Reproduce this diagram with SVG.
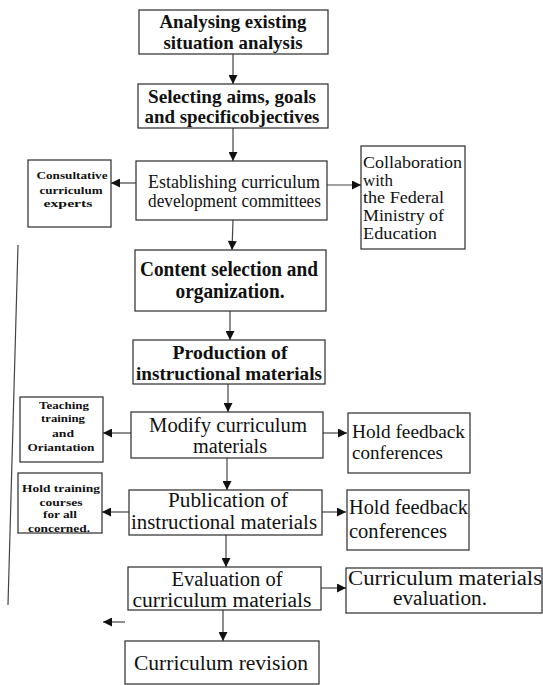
<svg xmlns="http://www.w3.org/2000/svg" width="543" height="685" viewBox="0 0 543 685">
  <style>
    .box { fill: #ffffff; stroke: #2a2a2a; stroke-width: 1.2; }
    text { font-family: "Liberation Serif", "DejaVu Serif", serif; fill: #111; }
    .b { font-weight: bold; }
    .m { font-size: 19px; }
    .l { font-size: 20px; }
    .e { font-size: 19px; }
    .r { font-size: 16px; }
    .s { font-size: 11px; font-weight: bold; }
    .c { text-anchor: middle; }
    .conn line { stroke: #444; stroke-width: 1.2; }
  </style>
  <defs>
    <marker id="ah" viewBox="0 0 10 10" refX="10" refY="5" markerWidth="10" markerHeight="9" markerUnits="userSpaceOnUse" orient="auto">
      <path d="M0,0 L10,5 L0,10 Z" fill="#111"/>
    </marker>
  </defs>
  <rect width="543" height="685" fill="#ffffff"/>

  <!-- flow connectors -->
  <g id="connectors" class="conn">
    <line x1="233" y1="54" x2="233" y2="84" marker-end="url(#ah)"/>
    <line x1="233" y1="128" x2="233" y2="161" marker-end="url(#ah)"/>
    <line x1="233" y1="220" x2="232" y2="250" marker-end="url(#ah)"/>
    <line x1="230" y1="311" x2="230" y2="340" marker-end="url(#ah)"/>
    <line x1="228" y1="384" x2="228" y2="412" marker-end="url(#ah)"/>
    <line x1="227" y1="458" x2="227" y2="490" marker-end="url(#ah)"/>
    <line x1="226" y1="535" x2="226" y2="567" marker-end="url(#ah)"/>
    <line x1="223" y1="610" x2="223" y2="641" marker-end="url(#ah)"/>
    <line x1="136" y1="183" x2="111" y2="183" marker-end="url(#ah)"/>
    <line x1="327" y1="185" x2="361" y2="185" marker-end="url(#ah)"/>
    <line x1="131" y1="433" x2="103" y2="433" marker-end="url(#ah)"/>
    <line x1="323" y1="433" x2="347" y2="433" marker-end="url(#ah)"/>
    <line x1="129" y1="512" x2="102" y2="512" marker-end="url(#ah)"/>
    <line x1="322" y1="512" x2="346" y2="512" marker-end="url(#ah)"/>
    <line x1="321" y1="588" x2="346" y2="588" marker-end="url(#ah)"/>
    <line x1="125" y1="622" x2="103" y2="622" marker-end="url(#ah)"/>
    <line x1="18" y1="245" x2="8" y2="605"/>
  </g>

  <g id="analysing">
    <rect class="box" x="139" y="10" width="189" height="44"/>
    <text class="m b c" x="233" y="28" textLength="147" lengthAdjust="spacingAndGlyphs">Analysing existing</text>
    <text class="m b c" x="233" y="49" textLength="139" lengthAdjust="spacingAndGlyphs">situation analysis</text>
  </g>

  <g id="selecting">
    <rect class="box" x="138" y="84" width="190" height="44"/>
    <text class="m b c" x="232" y="103" textLength="168" lengthAdjust="spacingAndGlyphs">Selecting aims, goals</text>
    <text class="m b c" x="232" y="123" textLength="175" lengthAdjust="spacingAndGlyphs">and specificobjectives</text>
  </g>

  <g id="establishing">
    <rect class="box" x="136" y="161" width="191" height="59"/>
    <text class="e" x="148" y="188" textLength="172" lengthAdjust="spacingAndGlyphs">Establishing curriculum</text>
    <text class="e" x="148" y="207" textLength="173" lengthAdjust="spacingAndGlyphs">development committees</text>
  </g>

  <g id="consultative">
    <rect class="box" x="28" y="160" width="83" height="67"/>
    <text class="s c" x="72" y="179" textLength="71" lengthAdjust="spacingAndGlyphs">Consultative</text>
    <text class="s c" x="71" y="194" textLength="63" lengthAdjust="spacingAndGlyphs">curriculum</text>
    <text class="s c" x="68" y="207" textLength="49" lengthAdjust="spacingAndGlyphs">experts</text>
  </g>

  <g id="collaboration">
    <rect class="box" x="361" y="146" width="104" height="103"/>
    <text class="r" x="363" y="168" textLength="99" lengthAdjust="spacingAndGlyphs">Collaboration</text>
    <text class="r" x="363" y="186" textLength="30" lengthAdjust="spacingAndGlyphs">with</text>
    <text class="r" x="363" y="203" textLength="81" lengthAdjust="spacingAndGlyphs">the Federal</text>
    <text class="r" x="363" y="221" textLength="81" lengthAdjust="spacingAndGlyphs">Ministry of</text>
    <text class="r" x="363" y="239" textLength="74" lengthAdjust="spacingAndGlyphs">Education</text>
  </g>

  <g id="content">
    <rect class="box" x="135" y="250" width="191" height="61"/>
    <text class="l b c" x="229" y="276" textLength="178" lengthAdjust="spacingAndGlyphs">Content selection and</text>
    <text class="l b c" x="230" y="298" textLength="109" lengthAdjust="spacingAndGlyphs">organization.</text>
  </g>

  <g id="production">
    <rect class="box" x="133" y="340" width="192" height="44"/>
    <text class="m b c" x="230" y="359" textLength="115" lengthAdjust="spacingAndGlyphs">Production of</text>
    <text class="m b c" x="229" y="380" textLength="186" lengthAdjust="spacingAndGlyphs">instructional materials</text>
  </g>

  <g id="teaching">
    <rect class="box" x="20" y="397" width="83" height="65"/>
    <text class="s c" x="64" y="409" textLength="50" lengthAdjust="spacingAndGlyphs">Teaching</text>
    <text class="s c" x="63" y="422" textLength="44" lengthAdjust="spacingAndGlyphs">training</text>
    <text class="s c" x="63" y="437" textLength="22" lengthAdjust="spacingAndGlyphs">and</text>
    <text class="s c" x="61" y="451" textLength="67" lengthAdjust="spacingAndGlyphs">Oriantation</text>
  </g>

  <g id="modify">
    <rect class="box" x="131" y="412" width="192" height="46"/>
    <text class="l c" x="228" y="432" textLength="158" lengthAdjust="spacingAndGlyphs">Modify curriculum</text>
    <text class="l c" x="230" y="453" textLength="74" lengthAdjust="spacingAndGlyphs">materials</text>
  </g>

  <g id="feedback1">
    <rect class="box" x="348" y="413" width="122" height="60"/>
    <text class="m" x="352" y="438" textLength="113" lengthAdjust="spacingAndGlyphs">Hold feedback</text>
    <text class="m" x="352" y="459" textLength="91" lengthAdjust="spacingAndGlyphs">conferences</text>
  </g>

  <g id="training">
    <rect class="box" x="18" y="473" width="84" height="60"/>
    <text class="s c" x="61" y="492" textLength="78" lengthAdjust="spacingAndGlyphs">Hold training</text>
    <text class="s c" x="61" y="506" textLength="43" lengthAdjust="spacingAndGlyphs">courses</text>
    <text class="s c" x="60" y="518" textLength="34" lengthAdjust="spacingAndGlyphs">for all</text>
    <text class="s c" x="59" y="532" textLength="62" lengthAdjust="spacingAndGlyphs">concerned.</text>
  </g>

  <g id="publication">
    <rect class="box" x="129" y="490" width="193" height="45"/>
    <text class="l c" x="228" y="507" textLength="120" lengthAdjust="spacingAndGlyphs">Publication of</text>
    <text class="l c" x="224" y="529" textLength="186" lengthAdjust="spacingAndGlyphs">instructional materials</text>
  </g>

  <g id="feedback2">
    <rect class="box" x="347" y="490" width="122" height="60"/>
    <text class="l" x="349" y="514" textLength="119" lengthAdjust="spacingAndGlyphs">Hold feedback</text>
    <text class="l" x="349" y="538" textLength="98" lengthAdjust="spacingAndGlyphs">conferences</text>
  </g>

  <g id="evaluation">
    <rect class="box" x="128" y="567" width="193" height="43"/>
    <text class="l c" x="227" y="586" textLength="111" lengthAdjust="spacingAndGlyphs">Evaluation of</text>
    <text class="l c" x="222" y="607" textLength="179" lengthAdjust="spacingAndGlyphs">curriculum materials</text>
  </g>

  <g id="materials-evaluation">
    <rect class="box" x="346" y="568" width="196" height="45"/>
    <text class="l c" x="445" y="585" textLength="194" lengthAdjust="spacingAndGlyphs">Curriculum materials</text>
    <text class="l c" x="440" y="605" textLength="94" lengthAdjust="spacingAndGlyphs">evaluation.</text>
  </g>

  <g id="revision">
    <rect class="box" x="125" y="641" width="194" height="43"/>
    <text font-size="21" class="c" x="221" y="670" textLength="174" lengthAdjust="spacingAndGlyphs">Curriculum revision</text>
  </g>
</svg>
